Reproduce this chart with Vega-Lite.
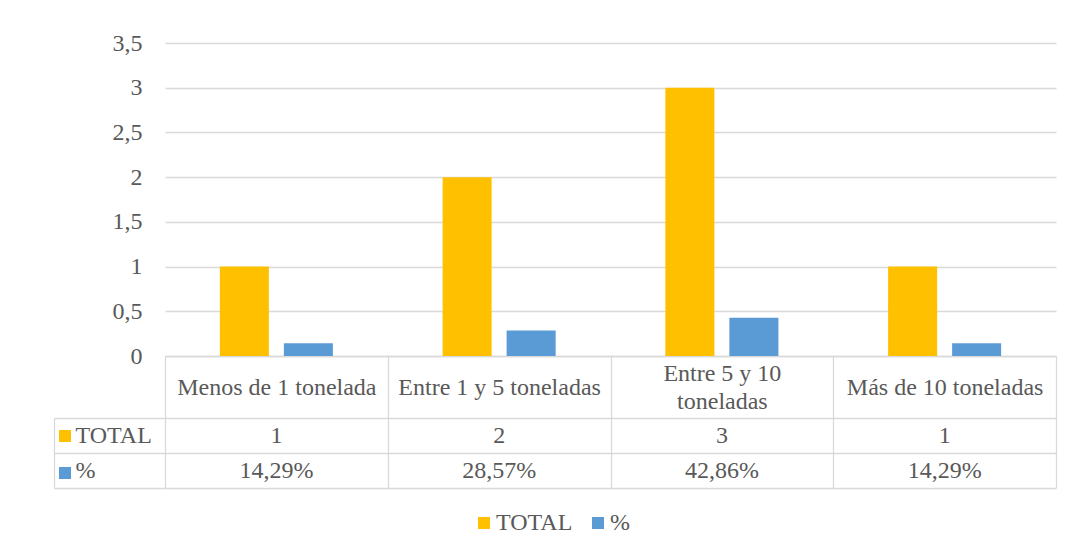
{
  "$schema": "https://vega.github.io/schema/vega-lite/v6.json",
  "background": "white",
  "padding": {"left": 53, "top": 31, "right": 5, "bottom": 5},
  "config": {
    "locale": {"number": {"decimal": ",", "thousands": ".", "grouping": [3], "currency": ["", " €"]}},
    "font": "Liberation Serif",
    "view": {"stroke": null},
    "axis": {"labelFont": "Liberation Serif", "labelFontSize": 24, "labelColor": "#595959", "gridColor": "#D9D9D9", "domainColor": "#D9D9D9", "tickColor": "#D9D9D9", "gridWidth": 1.3, "domainWidth": 1.3, "tickWidth": 1.3},
    "legend": {"labelFont": "Liberation Serif", "labelFontSize": 24, "labelColor": "#595959"}
  },
  "datasets": {
    "d": [
      {"categoria": "Menos de 1 tonelada", "serie": "TOTAL", "valor": 1},
      {"categoria": "Menos de 1 tonelada", "serie": "%", "valor": 0.1429},
      {"categoria": "Entre 1 y 5 toneladas", "serie": "TOTAL", "valor": 2},
      {"categoria": "Entre 1 y 5 toneladas", "serie": "%", "valor": 0.2857},
      {"categoria": "Entre 5 y 10 toneladas", "serie": "TOTAL", "valor": 3},
      {"categoria": "Entre 5 y 10 toneladas", "serie": "%", "valor": 0.4286},
      {"categoria": "Más de 10 toneladas", "serie": "TOTAL", "valor": 1},
      {"categoria": "Más de 10 toneladas", "serie": "%", "valor": 0.1429}
    ]
  },
  "data": {"name": "d"},
  "bounds": "flush",
  "spacing": 62,
  "resolve": {"legend": {"color": "independent"}, "scale": {"color": "independent"}},
  "vconcat": [
    {
      "width": 891,
      "height": 313,
      "mark": {"type": "bar"},
      "encoding": {
        "x": {
          "field": "categoria", "type": "nominal",
          "sort": ["Menos de 1 tonelada", "Entre 1 y 5 toneladas", "Entre 5 y 10 toneladas", "Más de 10 toneladas"],
          "scale": {"paddingInner": 0, "paddingOuter": 0},
          "axis": {
            "title": null, "orient": "bottom", "labelAngle": 0, "tickBand": "extent", "tickSize": 62,
            "labelPadding": {"condition": {"test": "datum.value == 'Entre 5 y 10 toneladas'", "value": -45}, "value": -31},
            "labelBaseline": "middle", "labelLimit": 260, "labelLineHeight": 28,
            "labelOverlap": false, "labelBound": false, "domain": true, "ticks": true, "grid": false,
            "labelExpr": "datum.value == 'Entre 5 y 10 toneladas' ? ['Entre 5 y 10', 'toneladas'] : datum.label"
          }
        },
        "y": {
          "field": "valor", "type": "quantitative",
          "scale": {"domain": [0, 3.5], "nice": false},
          "axis": {"title": null, "values": [0, 0.5, 1, 1.5, 2, 2.5, 3, 3.5], "format": "~g", "domain": false, "ticks": false, "labelPadding": 23, "grid": true}
        },
        "xOffset": {
          "field": "serie", "type": "nominal", "sort": ["TOTAL", "%"],
          "scale": {"domain": ["TOTAL", "%"], "paddingInner": 0.234, "paddingOuter": 0.857}
        },
        "color": {
          "field": "serie", "type": "nominal",
          "scale": {"domain": ["TOTAL", "%"], "range": ["#FFC000", "#5B9BD5"]},
          "legend": {
            "title": null, "orient": "none", "direction": "horizontal", "legendX": 307, "legendY": 468,
            "symbolType": "square", "symbolSize": 144, "symbolStrokeWidth": 0, "labelOffset": 0, "columnPadding": 13
          }
        }
      }
    },
    {
      "width": 891,
      "height": 70,
      "resolve": {"axis": {"y": "independent"}},
      "layer": [
        {
          "transform": [{"filter": "datum.serie == 'TOTAL'"}],
          "mark": {"type": "text", "font": "Liberation Serif", "fontSize": 24, "color": "#595959"},
          "encoding": {
            "x": {
              "field": "categoria", "type": "nominal",
              "sort": ["Menos de 1 tonelada", "Entre 1 y 5 toneladas", "Entre 5 y 10 toneladas", "Más de 10 toneladas"],
              "scale": {"paddingInner": 0, "paddingOuter": 0},
              "axis": {"title": null, "orient": "bottom", "grid": true, "tickBand": "extent", "labels": false, "ticks": false, "domain": false}
            },
            "y": {
              "field": "serie", "type": "nominal",
              "scale": {"domain": ["TOTAL", "%"], "paddingInner": 0, "paddingOuter": 0},
              "axis": {"title": null, "orient": "left", "grid": true, "tickBand": "extent", "ticks": true, "tickSize": 111, "labelAlign": "left", "labelPadding": -21, "labelBaseline": "middle", "domain": false}
            },
            "text": {"field": "valor", "type": "quantitative", "format": "d"}
          }
        },
        {
          "transform": [{"filter": "datum.serie == '%'"}],
          "mark": {"type": "text", "font": "Liberation Serif", "fontSize": 24, "color": "#595959"},
          "encoding": {
            "x": {
              "field": "categoria", "type": "nominal",
              "sort": ["Menos de 1 tonelada", "Entre 1 y 5 toneladas", "Entre 5 y 10 toneladas", "Más de 10 toneladas"],
              "scale": {"paddingInner": 0, "paddingOuter": 0}
            },
            "y": {
              "field": "serie", "type": "nominal",
              "scale": {"domain": ["TOTAL", "%"], "paddingInner": 0, "paddingOuter": 0},
              "axis": {"title": null, "orient": "left", "offset": 111, "domain": true, "ticks": false, "labels": false, "grid": false}
            },
            "text": {"field": "valor", "type": "quantitative", "format": ".2%"}
          }
        },
        {
          "mark": {"type": "square", "opacity": 0},
          "encoding": {
            "x": {
              "field": "categoria", "type": "nominal",
              "sort": ["Menos de 1 tonelada", "Entre 1 y 5 toneladas", "Entre 5 y 10 toneladas", "Más de 10 toneladas"],
              "scale": {"paddingInner": 0, "paddingOuter": 0}
            },
            "y": {
              "field": "serie", "type": "nominal",
              "scale": {"domain": ["TOTAL", "%"], "paddingInner": 0, "paddingOuter": 0},
              "axis": null
            },
            "color": {
              "field": "serie", "type": "nominal",
              "scale": {"domain": ["TOTAL", "%"], "range": ["#FFC000", "#5B9BD5"]},
              "legend": {
                "title": null, "orient": "none", "direction": "vertical", "legendX": -106, "legendY": 12,
                "symbolType": "square", "symbolSize": 144, "symbolOpacity": 1, "symbolStrokeWidth": 0,
                "labelExpr": "''", "labelFontSize": 1, "rowPadding": 25
              }
            }
          }
        }
      ]
    }
  ]
}
